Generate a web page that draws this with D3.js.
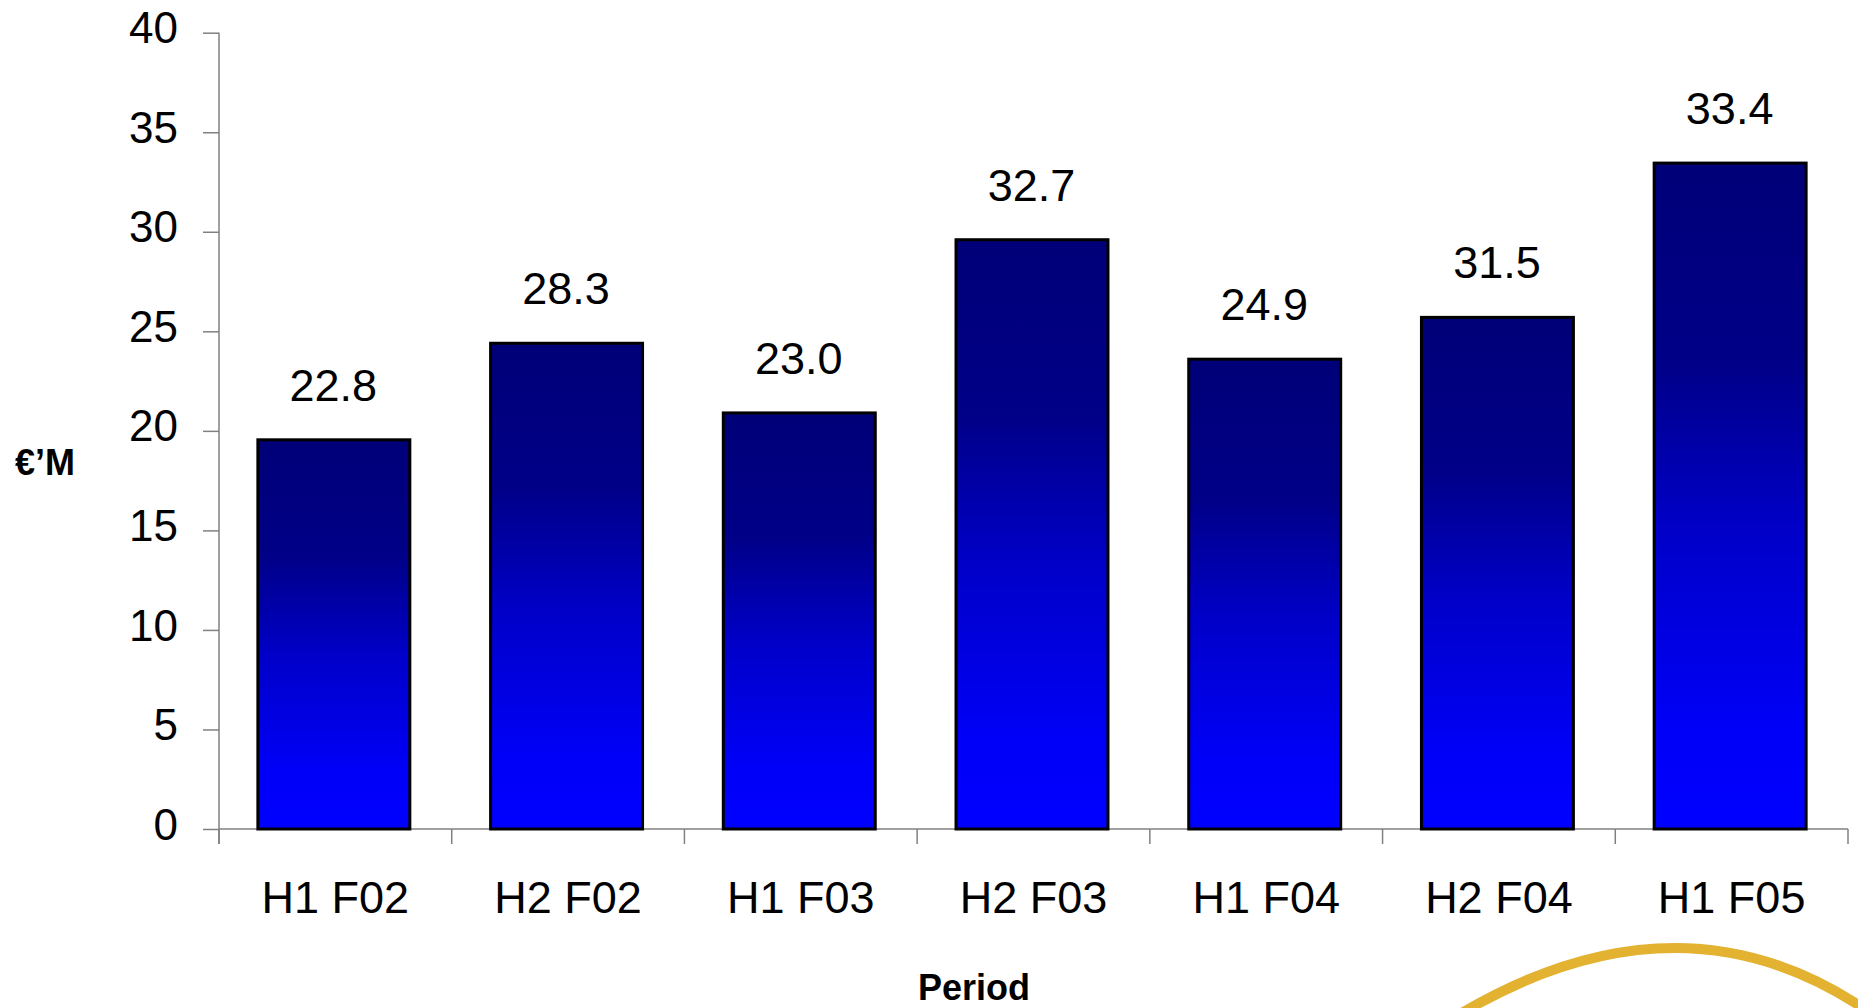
<!DOCTYPE html>
<html>
<head>
<meta charset="utf-8">
<script src="https://cdn.jsdelivr.net/npm/d3@7"></script>
<style>
  html, body { margin: 0; padding: 0; background: #ffffff; }
  svg { display: block; font-family: Arial, "Liberation Sans", Helvetica, sans-serif; }
</style>
</head>
<body>
<svg id="chart" width="1858" height="1008"></svg>
<script>
// ---- data ----
const categories = ["H1 F02", "H2 F02", "H1 F03", "H2 F03", "H1 F04", "H2 F04", "H1 F05"];
const barHeights = [19.55, 24.4, 20.9, 29.6, 23.6, 25.7, 33.45];
const valueLabels = ["22.8", "28.3", "23.0", "32.7", "24.9", "31.5", "33.4"];
const yTicks = [0, 5, 10, 15, 20, 25, 30, 35, 40];
const yTitle = "€’M";
const xTitle = "Period";

// ---- layout ----
const plotLeft = 219, plotRight = 1848, plotTop = 32.7, plotBottom = 829;
const axisColor = "#808080";

const svg = d3.select("#chart");

const defs = svg.append("defs");
const grad = defs.append("linearGradient")
  .attr("id", "barGrad").attr("x1", 0).attr("y1", 0).attr("x2", 0).attr("y2", 1);
grad.append("stop").attr("offset", "0").attr("stop-color", "#000078");
grad.append("stop").attr("offset", "0.3").attr("stop-color", "#000088");
grad.append("stop").attr("offset", "0.55").attr("stop-color", "#0000c8");
grad.append("stop").attr("offset", "0.85").attr("stop-color", "#0000f8");
grad.append("stop").attr("offset", "1").attr("stop-color", "#0000ff");

const x = d3.scaleBand().domain(categories).range([plotLeft, plotRight])
  .paddingInner(0.347).paddingOuter(0.1735);
const y = d3.scaleLinear().domain([0, 40]).range([plotBottom, plotTop]);

// y axis
const yAxis = d3.axisLeft(y).tickValues(yTicks).tickSize(16).tickSizeOuter(0).tickPadding(25);
const gy = svg.append("g").attr("transform", `translate(${plotLeft},0)`).call(yAxis);
gy.select(".domain").remove();
gy.selectAll(".tick line").attr("stroke", axisColor).attr("stroke-width", 1.5);
gy.selectAll(".tick text").attr("font-size", 44).attr("fill", "#000").attr("dy", "0.23em")
  .attr("font-family", "Arial, 'Liberation Sans', sans-serif");
svg.append("line").attr("x1", plotLeft).attr("x2", plotLeft).attr("y1", y(40)).attr("y2", plotBottom + 15)
  .attr("stroke", axisColor).attr("stroke-width", 1.5);

// x axis line and boundary ticks
svg.append("line").attr("x1", plotLeft).attr("x2", plotRight).attr("y1", plotBottom).attr("y2", plotBottom)
  .attr("stroke", axisColor).attr("stroke-width", 1.5);
const step = x.step();
const bounds = d3.range(categories.length + 1).map(i => plotLeft + i * step);
svg.append("g").selectAll("line").data(bounds).join("line")
  .attr("x1", d => d).attr("x2", d => d).attr("y1", plotBottom).attr("y2", plotBottom + 15)
  .attr("stroke", axisColor).attr("stroke-width", 1.5);

// category labels
svg.append("g").selectAll("text").data(categories).join("text")
  .attr("x", d => x(d) + x.bandwidth() / 2).attr("y", 913)
  .attr("text-anchor", "middle").attr("font-size", 45).attr("fill", "#000")
  .text(d => d);

// bars
svg.append("g").attr("transform", "translate(-1.5,0)")
  .selectAll("rect").data(categories).join("rect")
  .attr("x", d => x(d)).attr("width", x.bandwidth())
  .attr("y", (d, i) => y(barHeights[i])).attr("height", (d, i) => plotBottom - y(barHeights[i]))
  .attr("fill", "url(#barGrad)").attr("stroke", "#000").attr("stroke-width", 3);

// value labels
svg.append("g").selectAll("text").data(categories).join("text")
  .attr("x", d => x(d) + x.bandwidth() / 2 - 2)
  .attr("y", (d, i) => y(barHeights[i]) - 39)
  .attr("text-anchor", "middle").attr("font-size", 45).attr("fill", "#000")
  .text((d, i) => valueLabels[i]);

// axis titles
svg.append("text").attr("x", 15).attr("y", 475).attr("font-size", 36).attr("font-weight", "bold")
  .attr("fill", "#000").text(yTitle);
svg.append("text").attr("x", 974).attr("y", 1000).attr("text-anchor", "middle")
  .attr("font-size", 36).attr("font-weight", "bold").attr("fill", "#000").text(xTitle);

// decorative gold arc (logo fragment)
svg.append("path").attr("d", "M1460 1014 Q1680 884 1866 1010")
  .attr("fill", "none").attr("stroke", "#e3b231").attr("stroke-width", 10);
</script>
</body>
</html>
